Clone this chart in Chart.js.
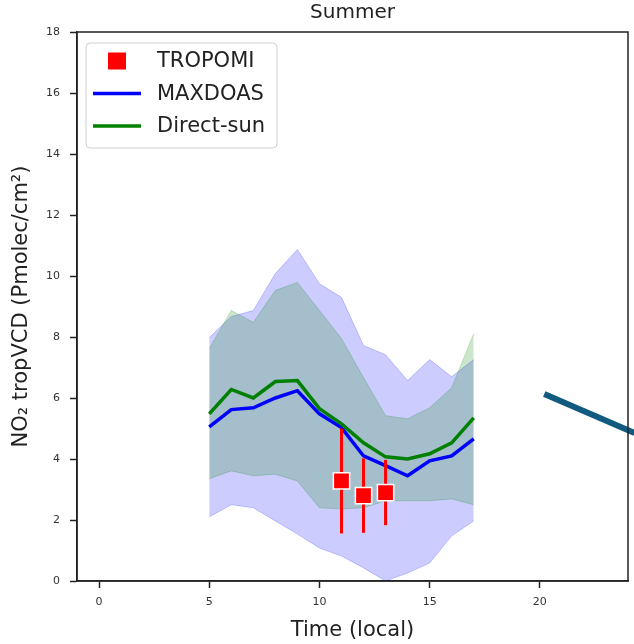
<!DOCTYPE html>
<html>
<head>
<meta charset="utf-8">
<script src="https://cdn.jsdelivr.net/npm/chart.js@4.4.1/dist/chart.umd.min.js"></script>
<style>
  body { margin: 0; background: #fff; }
  #wrap { width: 634px; height: 644px; position: relative; }
</style>
</head>
<body>
<div id="wrap"><canvas id="summerChart"></canvas></div>
<script>
// hours (local time)
const hours = [5, 6, 7, 8, 9, 10, 11, 12, 13, 14, 15, 16, 17];

// MAXDOAS mean and spread
const maxdoasMean  = [5.05, 5.62, 5.68, 6.00, 6.24, 5.48, 5.03, 4.10, 3.78, 3.45, 3.94, 4.10, 4.66];
const maxdoasUpper = [7.98, 8.67, 8.87, 10.08, 10.87, 9.75, 9.30, 7.72, 7.42, 6.57, 7.26, 6.70, 7.26];
const maxdoasLower = [2.10, 2.50, 2.40, 1.97, 1.54, 1.08, 0.82, 0.43, 0.00, 0.26, 0.59, 1.48, 1.97];

// Direct-sun mean and spread
const directMean  = [5.48, 6.28, 6.00, 6.54, 6.57, 5.65, 5.15, 4.53, 4.07, 4.00, 4.17, 4.53, 5.35];
const directUpper = [7.62, 8.87, 8.48, 9.53, 9.79, 8.87, 7.95, 6.67, 5.42, 5.32, 5.68, 6.34, 8.11];
const directLower = [3.35, 3.61, 3.45, 3.50, 3.28, 2.40, 2.36, 2.40, 2.63, 2.63, 2.63, 2.69, 2.50];

// TROPOMI overpasses
const tropomiHours = [11, 12, 13];
const tropomiMean  = [3.28, 2.80, 2.90];
const tropomiErr   = [1.72, 1.22, 1.07];

// stray arrow stroke coming in from the right
const arrowX = [20.2, 24.3];
const arrowY = [6.13, 4.85];

const xTicks = [0, 5, 10, 15, 20];
const yTicks = [0, 2, 4, 6, 8, 10, 12, 14, 16, 18];

const FONT = 'DejaVu Sans';
const pts = (xs, ys) => xs.map((x, i) => ({ x: x, y: ys[i] }));

const blueFill = 'rgba(0,0,255,0.2)';
const greenFill = 'rgba(0,128,0,0.2)';

const datasets = [
  { label: 'maxdoas-up', data: pts(hours, maxdoasUpper), fill: '+1', backgroundColor: blueFill,
    borderColor: blueFill, borderWidth: 1, pointRadius: 0, order: 6 },
  { label: 'maxdoas-lo', data: pts(hours, maxdoasLower), fill: false,
    borderColor: blueFill, borderWidth: 1, pointRadius: 0, order: 6 },
  { label: 'direct-up', data: pts(hours, directUpper), fill: '+1', backgroundColor: greenFill,
    borderColor: greenFill, borderWidth: 1, pointRadius: 0, order: 5 },
  { label: 'direct-lo', data: pts(hours, directLower), fill: false,
    borderColor: greenFill, borderWidth: 1, pointRadius: 0, order: 5 },
  { label: 'MAXDOAS', data: pts(hours, maxdoasMean), borderColor: '#0000ff', borderWidth: 3.5,
    pointRadius: 0, fill: false, order: 4 },
  { label: 'Direct-sun', data: pts(hours, directMean), borderColor: '#008000', borderWidth: 3.5,
    pointRadius: 0, fill: false, order: 3 }
];

// error bars, one little dataset per overpass
tropomiHours.forEach((h, i) => {
  datasets.push({
    label: 'err' + i,
    data: [{ x: h, y: tropomiMean[i] - tropomiErr[i] }, { x: h, y: tropomiMean[i] + tropomiErr[i] }],
    borderColor: '#ff0000', borderWidth: 3, pointRadius: 0, fill: false, order: 2
  });
});

datasets.push({
  label: 'TROPOMI', data: pts(tropomiHours, tropomiMean), showLine: false,
  pointStyle: 'rect', pointRadius: 11.5, pointBackgroundColor: '#ff0000',
  pointBorderColor: '#ffffff', pointBorderWidth: 1.5, order: 1
});

datasets.push({
  label: 'arrow', data: pts(arrowX, arrowY), borderColor: '#115b80', borderWidth: 6,
  pointRadius: 0, fill: false, clip: false, order: 0
});

// title over the axes, top/right spines, legend box inside the axes
const framePlugin = {
  id: 'frame',
  afterDraw(chart) {
    const { ctx, chartArea: a } = chart;
    ctx.save();
    ctx.strokeStyle = '#222';
    ctx.lineWidth = 1.5;
    ctx.strokeRect(a.left, a.top, a.right - a.left, a.bottom - a.top);

    ctx.fillStyle = '#222';
    ctx.font = '20px "' + FONT + '"';
    ctx.textAlign = 'center';
    ctx.textBaseline = 'middle';
    ctx.fillText('Summer', (a.left + a.right) / 2, 13);

    // legend
    const bx = a.left + 9, by = a.top + 11, bw = 191, bh = 105;
    ctx.beginPath();
    ctx.roundRect(bx, by, bw, bh, 4);
    ctx.fillStyle = 'rgba(255,255,255,0.8)';
    ctx.fill();
    ctx.strokeStyle = '#d0d0d0';
    ctx.lineWidth = 1;
    ctx.stroke();

    const entries = [
      { text: 'TROPOMI', kind: 'square', color: '#ff0000' },
      { text: 'MAXDOAS', kind: 'line', color: '#0000ff' },
      { text: 'Direct-sun', kind: 'line', color: '#008000' }
    ];
    ctx.font = '21px "' + FONT + '"';
    ctx.textAlign = 'left';
    entries.forEach((e, i) => {
      const cy = by + 18 + i * 32.5;
      if (e.kind === 'square') {
        ctx.fillStyle = e.color;
        ctx.fillRect(bx + 22, cy - 8.5, 18, 17);
      } else {
        ctx.strokeStyle = e.color;
        ctx.lineWidth = 3.5;
        ctx.beginPath();
        ctx.moveTo(bx + 7, cy);
        ctx.lineTo(bx + 55, cy);
        ctx.stroke();
      }
      ctx.fillStyle = '#222';
      ctx.fillText(e.text, bx + 71, cy + 1);
    });
    ctx.restore();
  }
};

new Chart(document.getElementById('summerChart'), {
  type: 'line',
  data: { datasets: datasets },
  options: {
    responsive: true,
    maintainAspectRatio: false,
    animation: false,
    layout: { autoPadding: false, padding: { left: 0, right: 6, top: 32, bottom: 0 } },
    plugins: {
      legend: { display: false },
      tooltip: { enabled: false },
      title: { display: false }
    },
    scales: {
      x: {
        type: 'linear', min: -1, max: 24,
        afterBuildTicks: (s) => { s.ticks = xTicks.map(v => ({ value: v })); },
        afterFit: (s) => { s.height = 63; },
        grid: { drawOnChartArea: false, color: '#222', tickLength: 7, tickWidth: 1.5 },
        border: { color: '#222', width: 1.5 },
        ticks: { color: '#333', padding: 8, font: { family: FONT, size: 11 } },
        title: { display: true, text: 'Time (local)', color: '#222',
          font: { family: FONT, size: 21 }, padding: { top: 0, bottom: 1 } }
      },
      y: {
        type: 'linear', min: 0, max: 18,
        afterBuildTicks: (s) => { s.ticks = yTicks.map(v => ({ value: v })); },
        afterFit: (s) => { s.width = 77; },
        grid: { drawOnChartArea: false, color: '#222', tickLength: 7, tickWidth: 1.5 },
        border: { color: '#222', width: 1.5 },
        ticks: { color: '#333', padding: 10, font: { family: FONT, size: 11 } },
        title: { display: true, text: 'NO₂ tropVCD (Pmolec/cm²)', color: '#222',
          font: { family: FONT, size: 21 }, padding: { top: 9, bottom: 0 } }
      }
    }
  },
  plugins: [framePlugin]
});
</script>
</body>
</html>
